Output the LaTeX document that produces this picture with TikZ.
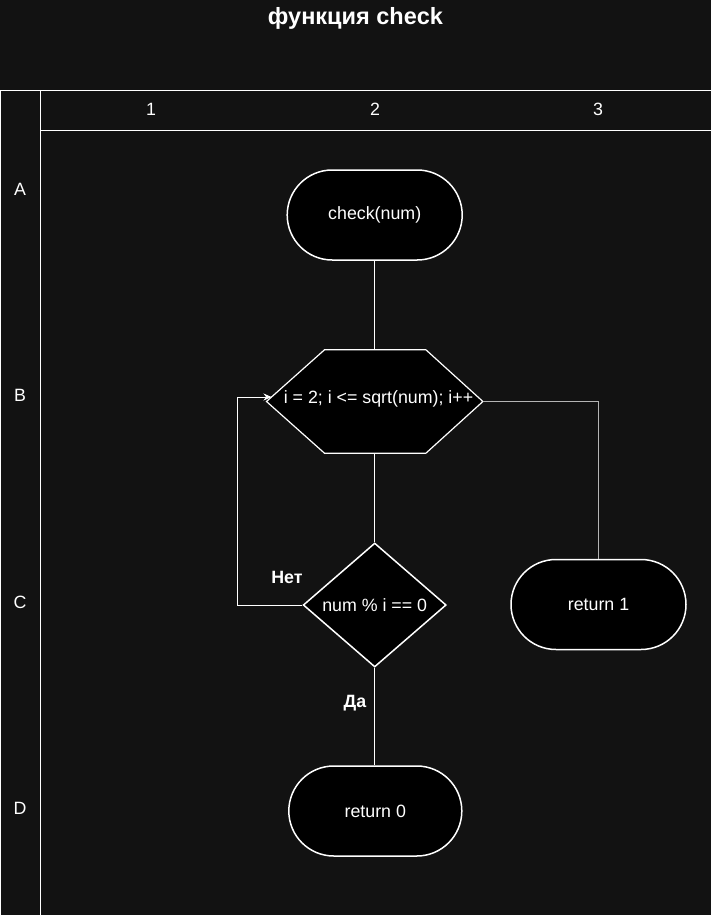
\documentclass[tikz,border=0pt]{standalone}
\usepackage{fontspec}
\setmainfont{Liberation Sans}
\usetikzlibrary{shapes.geometric,arrows.meta,calc}
\definecolor{canvas}{HTML}{121212}
\definecolor{wiregrey}{HTML}{B4B4B4}
\begin{document}
\begin{tikzpicture}[x=1pt,y=-1pt,
  every node/.style={text=white,font=\fontsize{17.8}{21}\selectfont},
  frameline/.style={draw=white,line width=1.2pt},
  headlabel/.style={inner sep=0pt},
  termbox/.style={draw=white,fill=black,line width=1.5pt,rectangle,
    rounded corners=45pt,minimum width=175pt,minimum height=90pt,inner sep=0pt},
  hexbox/.style={draw=none,rectangle,minimum width=216pt,minimum height=103pt,inner sep=0pt},
  hexline/.style={draw=white,fill=black,line width=1.2pt,line join=miter},
  decision/.style={draw=white,fill=black,line width=1.5pt,diamond,
    minimum width=143pt,minimum height=124pt,inner sep=0pt},
  wire/.style={draw=white,line width=1pt},
  greywire/.style={draw=wiregrey,line width=1pt},
  branch/.style={font=\fontsize{17.8}{21}\selectfont\bfseries,inner sep=0pt},
  tip/.style={-{Stealth[length=8pt,width=7pt]}}
]
% canvas
\fill[canvas] (0,0) rectangle (711,915);
\useasboundingbox (0,0) rectangle (711,915);

% title
\node[font=\fontsize{23.5}{28}\selectfont\bfseries] (title) at (355.5,18) {функция check};

% swimlane grid
\draw[frameline] (0.6,915) -- (0.6,90.6) -- (711,90.6);
\draw[frameline] (40.5,90.6) -- (40.5,915);
\draw[frameline] (40.5,130.5) -- (711,130.5);

\node[headlabel] (col1) at (151,109) {1};
\node[headlabel] (col2) at (375,109) {2};
\node[headlabel] (col3) at (598,109) {3};
\node[headlabel] (rowA) at (20,189) {A};
\node[headlabel] (rowB) at (20,395) {B};
\node[headlabel] (rowC) at (20,602) {C};
\node[headlabel] (rowD) at (20,808) {D};

% flowchart blocks
\node[termbox] (start) at (374.7,215) {check(num)};

\node[hexbox] (hex) at (374.7,401.5) {};
\draw[hexline] (hex.west) -- ($(hex.north west)+(58,0)$) -- ($(hex.north east)+(-57,0)$)
  -- (hex.east) -- ($(hex.south east)+(-57,0)$) -- ($(hex.south west)+(58,0)$) -- cycle;
\node (hextext) at (378.5,399) {i = 2; i <= sqrt(num); i++};

\node[decision] (cond) at (374.7,605) {num \% i == 0};
\node[termbox] (ret1) at (598.5,604.5) {return 1};
\node[termbox,minimum width=173pt] (ret0) at (375.3,811) {return 0};

% connectors
\draw[wire] (start.south) -- (hex.north);
\draw[wire] (hex.south) -- (cond.north);
\draw[wire] (cond.south) -- (cond.south |- ret0.north);
\coordinate (loopin) at ($(hex.west)+(5,-4.5)$);
\draw[wire,tip] (cond.west) -- (237,605) -- (237,397) -- (loopin);
\draw[greywire] (hex.east) -- (ret1.north |- hex.east) -- (ret1.north);

% branch labels
\node[branch] (no) at (287,577) {Нет};
\node[branch] (yes) at (355,703) {Да};
\end{tikzpicture}
\end{document}
